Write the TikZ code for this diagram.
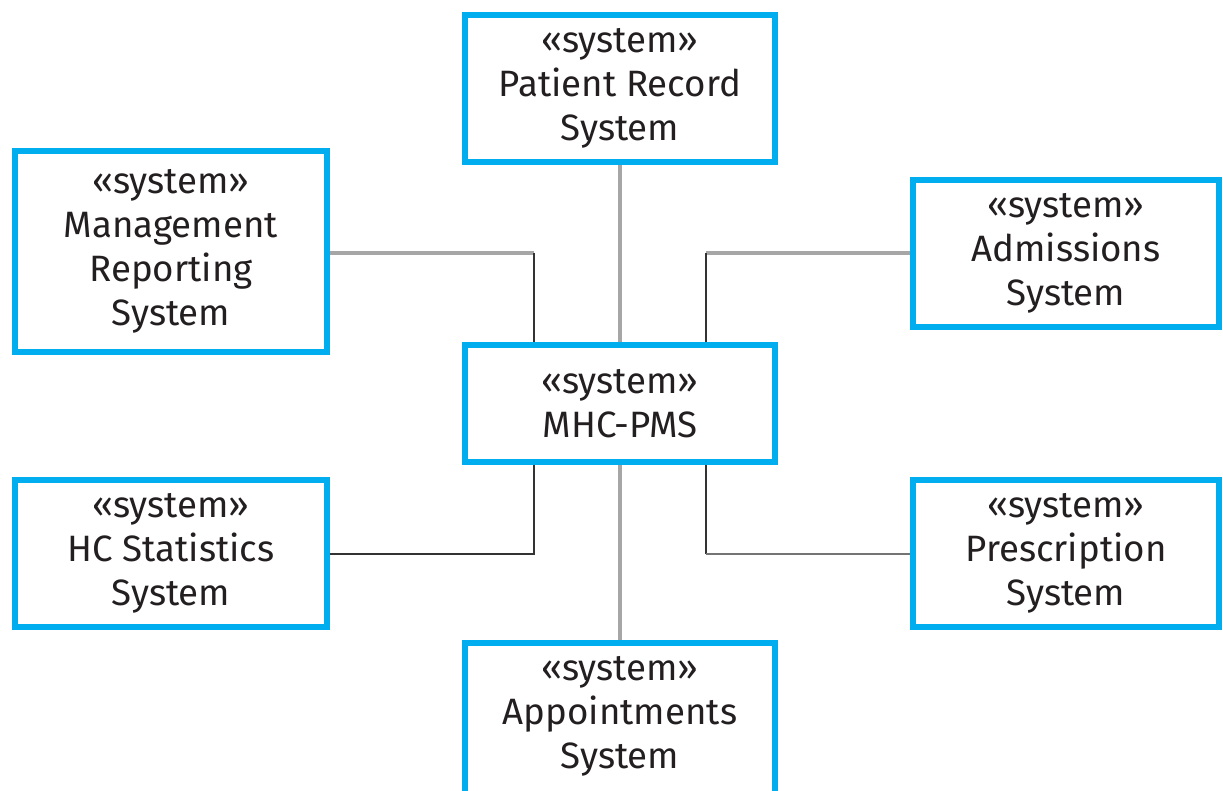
\documentclass[tikz,border=0pt]{standalone}
\usepackage{fontspec}
\setmainfont{Fira Sans}
\definecolor{sysblue}{HTML}{00AEEF}
\definecolor{linkgray}{HTML}{A6A6A6}
\definecolor{linkdark}{HTML}{333333}
\definecolor{inktext}{HTML}{231F20}
\begin{document}
\begin{tikzpicture}[x=0.75pt,y=-0.75pt,
  sysbox/.style={draw=sysblue,line width=4.5pt,fill=white,inner sep=0pt},
  boxlabel/.style={align=center,inner sep=0pt,text=inktext,
    font=\fontsize{27.5}{33}\selectfont},
  lightlink/.style={draw=linkgray,line width=2.6pt},
  darklink/.style={draw=linkdark,line width=1.8pt},
  midlink/.style={draw=linkgray!70!black,line width=2pt}]
  \fill[white] (0,0) rectangle (1223,790);
  \clip (0,0) rectangle (1223,790);

  % the seven system boxes (sizes in pt: 0.75pt per unit)
  \node[sysbox,minimum width=232.5pt,minimum height=110.25pt] (prs) at (620,88.5) {};
  \node[sysbox,minimum width=232.5pt,minimum height=87.75pt] (mhc) at (620,403.5) {};
  \node[sysbox,minimum width=232.5pt,minimum height=120pt] (app) at (620,723) {};
  \node[sysbox,minimum width=234pt,minimum height=150.75pt] (mgmt) at (171,251.5) {};
  \node[sysbox,minimum width=234pt,minimum height=110.25pt] (hcs) at (171,553.5) {};
  \node[sysbox,minimum width=229.5pt,minimum height=110.25pt] (adm) at (1066,253.5) {};
  \node[sysbox,minimum width=229.5pt,minimum height=110.25pt] (pre) at (1066,553.5) {};

  % junction points of the elbow connectors
  \coordinate (jtl) at (534,253);
  \coordinate (jtr) at (706,253);
  \coordinate (jbl) at (534,554);
  \coordinate (jbr) at (706,554);

  % connectors
  \draw[lightlink] (prs.south) -- (mhc.north);
  \draw[lightlink] (mhc.south) -- (app.north);
  \draw[lightlink] (mgmt.east |- jtl) -- (jtl);
  \draw[darklink] (jtl) -- (jtl |- mhc.north);
  \draw[lightlink] (adm.west |- jtr) -- (jtr);
  \draw[darklink] (jtr) -- (jtr |- mhc.north);
  \draw[darklink] (jbl |- mhc.south) -- (jbl) -- (hcs.east |- jbl);
  \draw[darklink] (jbr |- mhc.south) -- (jbr);
  \draw[midlink] (jbr) -- (pre.west |- jbr);

  % box labels
  \node[boxlabel] at (prs) {«system»\\Patient Record\\System};
  \node[boxlabel] at (mhc) {«system»\\MHC-PMS};
  \node[boxlabel] at ([yshift=4.9pt]app.center) {«system»\\Appointments\\System};
  \node[boxlabel] at (mgmt) {«system»\\Management\\Reporting\\System};
  \node[boxlabel] at (hcs) {«system»\\HC Statistics\\System};
  \node[boxlabel] at (adm) {«system»\\Admissions\\System};
  \node[boxlabel] at (pre) {«system»\\Prescription\\System};
\end{tikzpicture}
\end{document}
